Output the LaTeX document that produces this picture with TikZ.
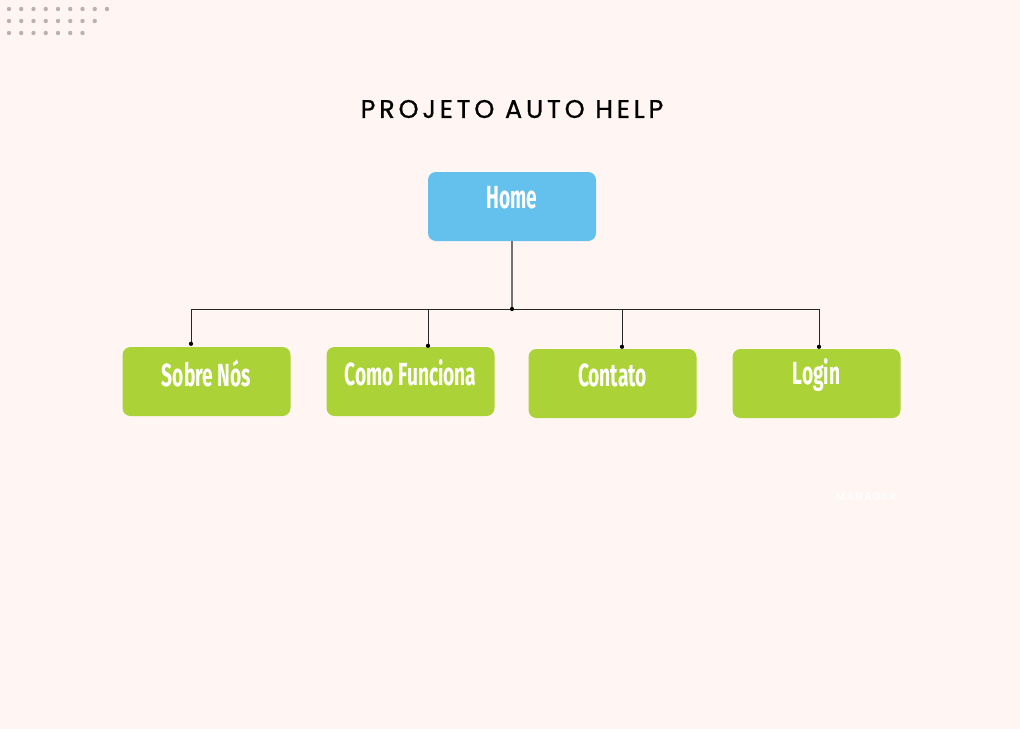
\documentclass[tikz,border=0pt]{standalone}
\usepackage{fontspec}
\usepackage{xcolor}
\usepackage{tikz}
\usetikzlibrary{calc}
\newfontfamily\titlefont{Poppins}[LetterSpace=15,FakeBold=0.8]
\newfontfamily\boxfont{Fira Sans}[FakeStretch=0.6]
\definecolor{bgpink}{HTML}{FFF5F3}
\definecolor{dotgray}{HTML}{BDB0B0}
\definecolor{homeblue}{HTML}{64C0EC}
\definecolor{pagegreen}{HTML}{ABD337}
\tikzset{
  pagebox/.style={minimum width=168pt,minimum height=69pt,inner sep=0pt,rounded corners=8pt},
  boxtext/.style={text=white,inner sep=0pt,font=\boxfont\bfseries\fontsize{32}{32}\selectfont},
  treeline/.style={black!85,line width=0.8pt},
}
\begin{document}
\begin{tikzpicture}[x=1pt,y=-1pt]
\fill[bgpink] (0,0) rectangle (1020,729);
\useasboundingbox (0,0) rectangle (1020,729);
%% dot pattern in the corner
\foreach \r/\n in {0/9,1/8,2/7}
  \foreach \i in {1,...,\n}
    \fill[dotgray] ({9+(\i-1)*12.25},{9+\r*12}) circle (2.2);
\node[font=\titlefont\fontsize{25.5}{25.5}\selectfont] (title) at (512,109) {PROJETO AUTO HELP};
%% home page
\node[pagebox,fill=homeblue] (home) at (512,206.5) {};
\node[boxtext] (home-t) at ([yshift=8.5pt]home.center) {Home};
%% sub pages
\foreach \nm/\cx/\cy/\txt in {sobre/206.5/381.5/Sobre Nós, como/410.5/381.5/Como Funciona, contato/612.5/383.5/Contato, login/816.5/383.5/Login}{
  \node[pagebox,fill=pagegreen] (\nm) at (\cx,\cy) {};
  \node[boxtext] (\nm-t) at ([yshift=8.5pt]\nm.center) {\txt};
}
\coordinate (hub) at (512,309);
\draw[black!55,line width=1.2pt] (home.south) -- (hub);
\coordinate (sobre-e) at ($(sobre.north)+(-15.5,-3)$);
\coordinate (como-e) at ($(como.north)+(17.5,-1)$);
\coordinate (contato-e) at ($(contato.north)+(9.5,-2)$);
\coordinate (login-e) at ($(login.north)+(2.5,-2)$);
\foreach \nm in {sobre,como,contato,login}
  \draw[treeline] (hub) -| (\nm-e);
\foreach \p in {hub,sobre-e,como-e,contato-e,login-e}
  \fill[black] (\p) circle (2.1);
\node[text=white,font=\titlefont\fontsize{10.5}{10.5}\selectfont] (manager) at (866,496) {MANAGER};
\end{tikzpicture}
\end{document}
